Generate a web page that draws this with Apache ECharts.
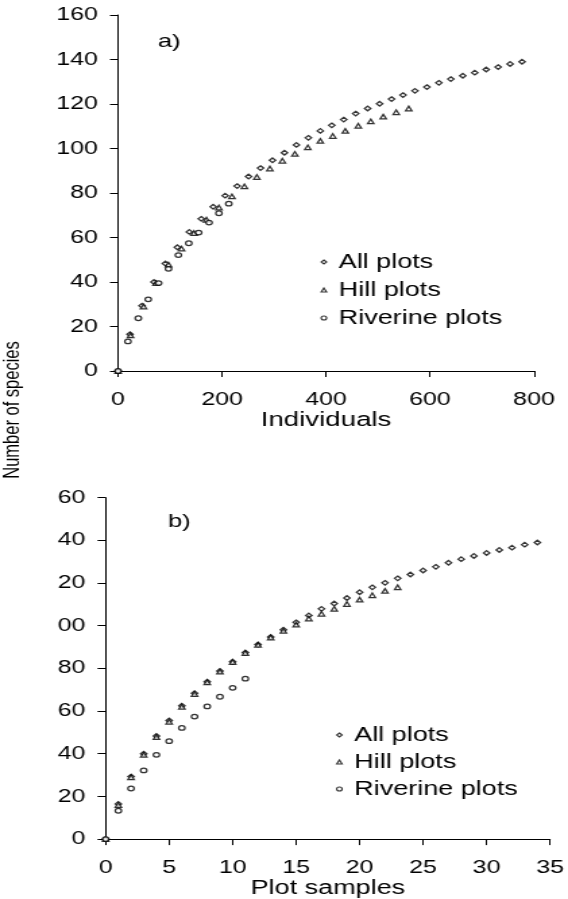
<!DOCTYPE html>
<html>
<head>
<meta charset="utf-8">
<script src="https://cdn.jsdelivr.net/npm/echarts@6/dist/echarts.min.js"></script>
<style>
html,body{margin:0;padding:0;background:#fff;overflow:hidden;}
#wrap{width:568px;height:899px;overflow:hidden;}
#chart{width:421px;height:899px;transform:scaleX(1.3492);transform-origin:0 0;}
</style>
</head>
<body>
<div id="wrap"><div id="chart"></div></div>
<script>
// ---- data ----
var seriesNames = ['All plots', 'Hill plots', 'Riverine plots'];
// species counts (shared by both panels)
var allSpecies = [0,16.5,29.3,40,48.3,55.6,62.5,68.4,73.8,78.8,83.1,87.4,91.2,94.7,98.1,101.6,104.8,107.9,110.4,113,115.7,118,120.1,122.2,124,125.9,127.6,129.5,131.2,132.7,134.1,135.5,136.6,138,139];
var hillSpecies = [0,16,29,39.5,47.8,55,62,68,73.5,78.5,83,87.2,91,94.5,97.6,100.5,103.4,105.6,107.9,110.2,112.2,114.3,116.3,118];
var riverSpecies = [0,13.3,23.7,32.2,39.5,45.9,52.1,57.4,62.2,66.7,70.9,75.2];
// panel a) x: individuals
var allIndividuals = [0,23,46,69,91,114,137,160,183,206,229,251,274,297,320,343,366,389,411,434,457,480,503,526,548,571,594,617,640,663,686,708,731,754,777];
var hillIndividuals = [0,24,49,73,97,122,146,170,194,219,243,267,292,316,340,365,389,413,437,462,486,510,535,559];
var riverIndividuals = [0,19,39,58,78,97,116,136,155,175,194,213];
// panel b) x: plot samples
var plotSamples = [0,1,2,3,4,5,6,7,8,9,10,11,12,13,14,15,16,17,18,19,20,21,22,23,24,25,26,27,28,29,30,31,32,33,34];
// tick labels
var topYLabels = ['0','20','40','60','80','100','120','140','160'];
var bottomYLabels = ['0','20','40','60','80','00','20','40','60'];

function pairs(xs, ys){ return ys.map(function(y,i){ return [xs[i], y]; }); }

var FONT = 'Liberation Sans, Arial, sans-serif';
var symbols = ['diamond','triangle','circle'];
var symSize = 4.6;

function axisCommon(){
  return {
    axisLine:{show:true,onZero:false,lineStyle:{color:'#000',width:1}},
    axisTick:{show:true,length:6,lineStyle:{color:'#000',width:1}},
    splitLine:{show:false},
    axisLabel:{color:'#000',fontSize:18.5,fontFamily:FONT}
  };
}

var xTop = axisCommon();
Object.assign(xTop,{type:'value',gridIndex:0,min:0,max:800,interval:200,
  name:'Individuals',nameLocation:'middle',nameGap:32,
  nameTextStyle:{color:'#000',fontSize:20.5,fontFamily:FONT}});
xTop.axisLabel.margin = 19;

var xBot = axisCommon();
Object.assign(xBot,{type:'value',gridIndex:1,min:0,max:35,interval:5,
  name:'Plot samples',nameLocation:'middle',nameGap:33,
  nameTextStyle:{color:'#000',fontSize:20,fontFamily:FONT}});
xBot.axisLabel.margin = 19;

var yTop = axisCommon();
Object.assign(yTop,{type:'value',gridIndex:0,min:0,max:160,interval:20});
yTop.axisLabel.margin = 15;
yTop.axisLabel.formatter = function(v){ return topYLabels[Math.round(v/20)]; };

var yBot = axisCommon();
Object.assign(yBot,{type:'value',gridIndex:1,min:0,max:160,interval:20});
yBot.axisLabel.margin = 15;
yBot.axisLabel.formatter = function(v){ return bottomYLabels[Math.round(v/20)]; };

var itemStyle = {color:'#fff',borderColor:'#000',borderWidth:1.25};

function mk(name, sym, xi, data){
  return {name:name,type:'scatter',xAxisIndex:xi,yAxisIndex:xi,symbol:sym,symbolSize:symSize,
    data:data,itemStyle:itemStyle,silent:true,animation:false};
}

var series = [
  mk(seriesNames[0],symbols[0],0,pairs(allIndividuals,allSpecies)),
  mk(seriesNames[1],symbols[1],0,pairs(hillIndividuals,hillSpecies)),
  mk(seriesNames[2],symbols[2],0,pairs(riverIndividuals,riverSpecies)),
  mk(seriesNames[0],symbols[0],1,pairs(plotSamples,allSpecies)),
  mk(seriesNames[1],symbols[1],1,pairs(plotSamples,hillSpecies)),
  mk(seriesNames[2],symbols[2],1,pairs(plotSamples,riverSpecies))
];

function legend(left, top, gap){
  return {orient:'vertical',left:left,top:top,itemWidth:4,itemHeight:4,itemGap:gap,
    selectedMode:false,
    data:seriesNames.map(function(n,i){return {name:n,icon:symbols[i]};}),
    itemStyle:{color:'#fff',borderColor:'#000',borderWidth:1.1},
    textStyle:{color:'#000',fontSize:20,fontFamily:FONT,lineHeight:20,padding:[0,0,0,4]}};
}

var chart = echarts.init(document.getElementById('chart'),null,{renderer:'canvas'});
chart.setOption({
  backgroundColor:'#fff',
  animation:false,
  grid:[
    {left:87.5,right:25.2,top:15,bottom:528,containLabel:false},
    {left:78.3,right:12.8,top:497.7,bottom:57,containLabel:false}
  ],
  xAxis:[xTop,xBot],
  yAxis:[yTop,yBot],
  legend:[legend(232.5,247,8),legend(244,720,7)],
  graphic:[
    {type:'text',left:117,top:32,style:{text:'a)',fontSize:19,fontFamily:FONT,fill:'#000'}},
    {type:'text',left:124.5,top:512,style:{text:'b)',fontSize:19,fontFamily:FONT,fill:'#000'}},
    {type:'text',x:9.6,y:410,rotation:Math.PI/2,
      style:{text:'Number of species',fontSize:16.5,fontFamily:FONT,fill:'#000',align:'center',verticalAlign:'middle'}}
  ],
  series:series
});
</script>
</body>
</html>
